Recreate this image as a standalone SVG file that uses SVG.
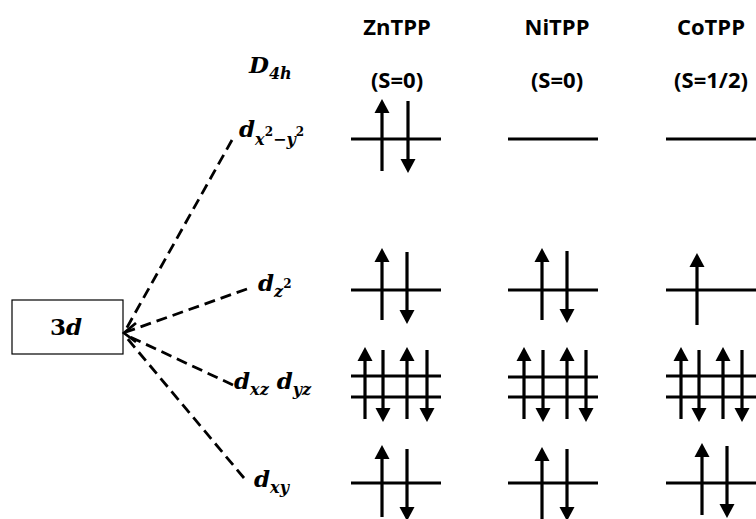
<svg xmlns="http://www.w3.org/2000/svg" xmlns:xlink="http://www.w3.org/1999/xlink" width="756" height="519" viewBox="0 0 756 519">
<style>
.hdr{font-family:"Open Sans","Liberation Sans",sans-serif;font-weight:bold;font-size:22px;fill:#000;text-anchor:middle}
.m{font-family:"DejaVu Serif","Liberation Serif",serif;font-weight:bold;font-style:italic;font-size:23px;fill:#000}
.sub{font-size:16px}
.sup{font-size:12px;font-style:normal}
.lvl{stroke:#000;stroke-width:3.2;fill:none}
.dash{stroke:#000;stroke-width:2.8;stroke-dasharray:11 6;fill:none}
.el line{stroke:#000;stroke-width:3.2}
.el path{fill:#000}
</style>
<defs>
<g id="up" class="el"><line x1="0" y1="72" x2="0" y2="12"/><path d="M-7.5,14 L0,0 L7.5,14 Z"/></g>
<g id="dn" class="el"><line x1="0" y1="0" x2="0" y2="60"/><path d="M-7.5,58 L0,72 L7.5,58 Z"/></g>
</defs>
<rect width="756" height="519" fill="#fff"/>

<g id="headers">
<text class="hdr" x="397" y="35">ZnTPP</text>
<text class="hdr" x="557" y="35">NiTPP</text>
<text class="hdr" x="711" y="35">CoTPP</text>
<text class="hdr" x="397" y="88">(S=0)</text>
<text class="hdr" x="557" y="88">(S=0)</text>
<text class="hdr" x="711" y="88">(S=1/2)</text>
</g>

<g id="d4h"><text class="m" x="249" y="73">D<tspan class="sub" dy="6">4h</tspan></text></g>

<g id="node-3d">
<rect x="12" y="300" width="111" height="54" fill="#fff" stroke="#000" stroke-width="1.2"/>
<text class="m" x="50" y="335"><tspan style="font-style:normal">3</tspan>d</text>
</g>

<g id="label-dx2y2"><text class="m" x="239" y="137">d<tspan class="sub" dy="8">x</tspan><tspan class="sup" dy="-9">2</tspan><tspan class="sub" dy="9" style="font-style:normal">−</tspan><tspan class="sub">y</tspan><tspan class="sup" dy="-9">2</tspan></text></g>
<g id="label-dz2"><text class="m" x="258" y="291">d<tspan class="sub" dy="6">z</tspan><tspan class="sup" dy="-9">2</tspan></text></g>
<g id="label-dxzdyz"><text class="m" x="234" y="389">d<tspan class="sub" dy="6">xz</tspan><tspan dy="-6"> d</tspan><tspan class="sub" dy="6">yz</tspan></text></g>
<g id="label-dxy"><text class="m" x="254" y="487">d<tspan class="sub" dy="6">xy</tspan></text></g>

<g id="connectors">
<line class="dash" x1="232" y1="140" x2="125" y2="331"/>
<line class="dash" x1="247" y1="289" x2="126" y2="332"/>
<line class="dash" x1="233" y1="385" x2="126" y2="335"/>
<line class="dash" x1="244" y1="478" x2="126" y2="337"/>
<path d="M136,323 L124,333 L136,342" fill="none" stroke="#000" stroke-width="2.8"/>
</g>

<g id="ZnTPP">
<line class="lvl" x1="351" y1="139" x2="441" y2="139"/>
<use xlink:href="#up" x="382" y="99"/><use xlink:href="#dn" x="408" y="101"/>
<line class="lvl" x1="351" y1="290" x2="441" y2="290"/>
<use xlink:href="#up" x="382" y="248"/><use xlink:href="#dn" x="407" y="252"/>
<line class="lvl" x1="351" y1="376" x2="441" y2="376"/>
<line class="lvl" x1="351" y1="397" x2="441" y2="397"/>
<use xlink:href="#up" x="365" y="347"/><use xlink:href="#dn" x="383" y="350"/>
<use xlink:href="#up" x="407" y="347"/><use xlink:href="#dn" x="427" y="350"/>
<line class="lvl" x1="351" y1="483" x2="441" y2="483"/>
<use xlink:href="#up" x="382" y="445"/><use xlink:href="#dn" x="407" y="449"/>
</g>

<g id="NiTPP">
<line class="lvl" x1="508" y1="139" x2="598" y2="139"/>
<line class="lvl" x1="508" y1="290" x2="598" y2="290"/>
<use xlink:href="#up" x="542" y="248"/><use xlink:href="#dn" x="567" y="251"/>
<line class="lvl" x1="508" y1="377" x2="598" y2="377"/>
<line class="lvl" x1="508" y1="397" x2="598" y2="397"/>
<use xlink:href="#up" x="524" y="347"/><use xlink:href="#dn" x="543" y="350"/>
<use xlink:href="#up" x="567" y="347"/><use xlink:href="#dn" x="586" y="350"/>
<line class="lvl" x1="508" y1="483" x2="598" y2="483"/>
<use xlink:href="#up" x="542" y="447"/><use xlink:href="#dn" x="567" y="449"/>
</g>

<g id="CoTPP">
<line class="lvl" x1="666" y1="139" x2="756" y2="139"/>
<line class="lvl" x1="666" y1="290" x2="756" y2="290"/>
<use xlink:href="#up" x="697" y="253"/>
<line class="lvl" x1="666" y1="376" x2="756" y2="376"/>
<line class="lvl" x1="666" y1="397" x2="756" y2="397"/>
<use xlink:href="#up" x="681" y="347"/><use xlink:href="#dn" x="699" y="350"/>
<use xlink:href="#up" x="723" y="347"/><use xlink:href="#dn" x="742" y="350"/>
<line class="lvl" x1="666" y1="483" x2="756" y2="483"/>
<use xlink:href="#up" x="702" y="443"/><use xlink:href="#dn" x="727" y="446"/>
</g>
</svg>
